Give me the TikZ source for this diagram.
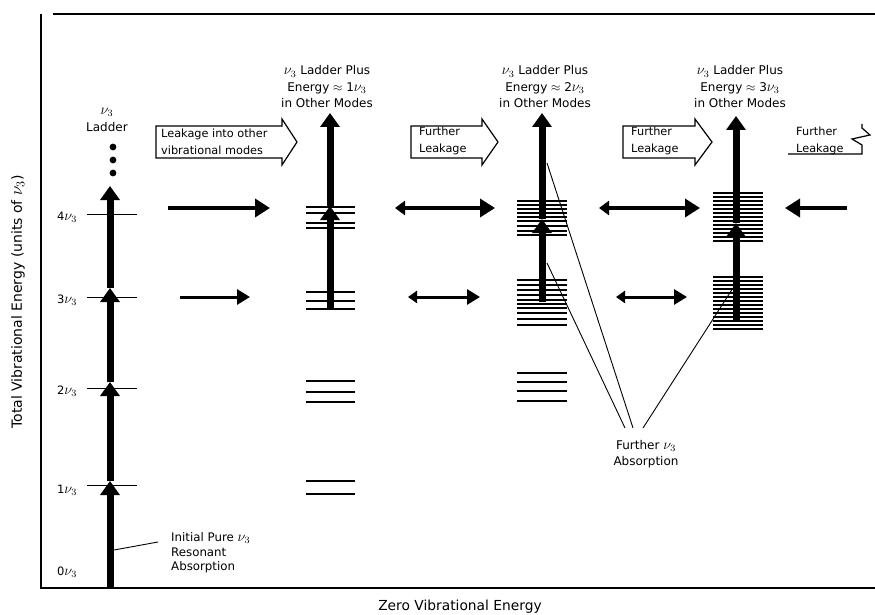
\documentclass[tikz,border=0pt]{standalone}
\usepackage{fontspec}
\setmainfont{DejaVu Sans}
\usetikzlibrary{arrows.meta,calc,positioning}
\newcommand\nuthree{\scalebox{1.2}{$\nu_3$}}
\tikzset{
  shaft/.style={line width=7pt, -{Triangle[length=14pt,width=19pt]}},
  rung/.style={line width=1.1pt},
  tick/.style={line width=0.8pt},
  push/.style={line width=3.6pt, -{Triangle[length=15pt,width=18pt]}},
  pushs/.style={line width=3pt, -{Triangle[length=13pt,width=15pt]}},
  swap/.style={line width=3.6pt, {Triangle[length=10pt,width=14pt]}-{Triangle[length=15pt,width=18pt]}},
  swaps/.style={line width=3pt, {Triangle[length=9pt,width=12pt]}-{Triangle[length=13pt,width=15pt]}},
  block/.style={line width=1.2pt, line join=miter},
  txt/.style={font=\fontsize{12}{16.5}\selectfont, inner sep=1pt},
  head/.style={txt, align=center},
  boxtxt/.style={txt, align=left, anchor=west, font=\fontsize{11.3}{17}\selectfont},
  lvl/.style={txt, font=\fontsize{11.5}{14}\selectfont}
}
\begin{document}
\begin{tikzpicture}[x=1pt, y=-1pt]
  \useasboundingbox[fill=white] (0,0) rectangle (875,615);
  % frame
  \draw[line width=1.2pt] (41,14) -- (41,588) -- (875,588);
  \draw[line width=1.6pt] (53,14) -- (875,14);
  \node[txt, rotate=90, font=\fontsize{14}{16}\selectfont] (ylab) at (18,302) {Total Vibrational Energy (units of \nuthree)};
  \node[txt, font=\fontsize{13.8}{16}\selectfont] (xlab) at (460,607) {Zero Vibrational Energy};

  % pure nu3 ladder
  \coordinate (g0) at (110,588);
  \coordinate (g1) at (110,481);
  \coordinate (g2) at (110,382);
  \coordinate (g3) at (110,288);
  \coordinate (gtop) at (110,186);
  \draw[shaft] (g0) -- (g1);
  \draw[shaft] (g1) -- (g2);
  \draw[shaft] (g2) -- (g3);
  \draw[shaft] (g3) -- (gtop);
  \foreach \y/\n in {485/1, 388/2, 297/3, 214/4}
    \draw[tick] (87,\y) -- (137,\y);
  \foreach \y/\n in {572/0, 490/1, 391/2, 300/3, 217/4}
    \node[lvl] (lv\n) at (67,\y) {\n\nuthree};
  \foreach \y in {147,160,173}
    \fill (113,\y) circle (3.4pt);
  \node[head] (lad) at (107,120) {\nuthree\\Ladder};
  \node[txt, align=left, anchor=west, font=\fontsize{11.8}{14.5}\selectfont] (init) at (170,553) {Initial Pure \nuthree\\Resonant\\Absorption};
  \coordinate (ip0) at (114,550);
  \coordinate (ip1) at (158,542);
  \draw[line width=0.9pt] (ip0) -- (ip1);

  % ladders with energy in other modes
  \node[head] (h1) at (327,87) {\nuthree\ Ladder Plus\\Energy $\approx$ 1\nuthree\\in Other Modes};
  \node[head] (h2) at (545,87) {\nuthree\ Ladder Plus\\Energy $\approx$ 2\nuthree\\in Other Modes};
  \node[head] (h3) at (740,87) {\nuthree\ Ladder Plus\\Energy $\approx$ 3\nuthree\\in Other Modes};

  \foreach \y in {207,213,223,228, 292,301,309, 381,392,402, 481,494}
    \draw[rung] (306,\y) -- (355,\y);
  \foreach \y in {201,205,209,213,217,221,226,231,235, 280,285,290,295,300,304,308,313,319,325, 373,382,391,401}
    \draw[rung] (517,\y) -- (567,\y);
  \foreach \y in {193,197,...,241}
    \draw[rung] (713,\y) -- (763,\y);
  \foreach \y in {277,281,...,329}
    \draw[rung] (713,\y) -- (763,\y);

  \coordinate (c1b) at (330,310);
  \coordinate (c1m) at (330,206);
  \coordinate (c1t) at (330,113);
  \coordinate (c2b) at (542,302);
  \coordinate (c2m) at (542,219);
  \coordinate (c2t) at (542,113);
  \coordinate (c3b) at (736,322);
  \coordinate (c3m) at (736,223);
  \coordinate (c3t) at (736,116);
  \draw[shaft] (c1b) -- (c1m);
  \draw[shaft] (c1m) -- (c1t);
  \draw[shaft] (c2b) -- (c2m);
  \draw[shaft] (c2m) -- (c2t);
  \draw[shaft] (c3b) -- (c3m);
  \draw[shaft] (c3m) -- (c3t);

  % leakage arrows
  \foreach \l/\r/\t in {156/282/297, 411/482/498, 623/695/712}
    \draw[block] (\l,126) -- (\r,126) -- (\r,119) -- (\t,142) -- (\r,165) -- (\r,158) -- (\l,158) -- cycle;
  \node[boxtxt] (leak) at (160,142) {Leakage into other\\vibrational modes};
  \node[boxtxt] (fl1) at (418,141) {Further\\Leakage};
  \node[boxtxt] (fl2) at (630,141) {Further\\Leakage};
  \node[boxtxt] (fl3) at (795,141) {Further\\Leakage};
  \draw[block] (788,154) -- (862,154) -- (862,145) -- (852,139) -- (870,135) -- (862,128) -- (862,124);

  \coordinate (r4a) at (168,208);  \coordinate (r4b) at (270,208);
  \coordinate (r4c) at (395,208);  \coordinate (r4d) at (495,208);
  \coordinate (r4e) at (599,208);  \coordinate (r4f) at (700,208);
  \coordinate (r4g) at (847,208);  \coordinate (r4h) at (785,208);
  \coordinate (r3a) at (180,297);  \coordinate (r3b) at (250,297);
  \coordinate (r3c) at (408,297);  \coordinate (r3d) at (480,297);
  \coordinate (r3e) at (616,297);  \coordinate (r3f) at (687,297);
  \draw[push] (r4a) -- (r4b);
  \draw[swap] (r4c) -- (r4d);
  \draw[swap] (r4e) -- (r4f);
  \draw[push] (r4g) -- (r4h);
  \draw[pushs] (r3a) -- (r3b);
  \draw[swaps] (r3c) -- (r3d);
  \draw[swaps] (r3e) -- (r3f);

  % further absorption
  \node[head, font=\fontsize{12}{16}\selectfont] (fabs) at (646,454) {Further \nuthree\\Absorption};
  \coordinate (a1) at (547,163);
  \coordinate (a2) at (547,263);
  \coordinate (a3) at (733,288);
  \coordinate (f1) at (633,428);
  \coordinate (f2) at (625,428);
  \coordinate (f3) at (643,428);
  \draw[line width=0.9pt] (a1) -- (f1) (a2) -- (f2) (a3) -- (f3);
\end{tikzpicture}
\end{document}
